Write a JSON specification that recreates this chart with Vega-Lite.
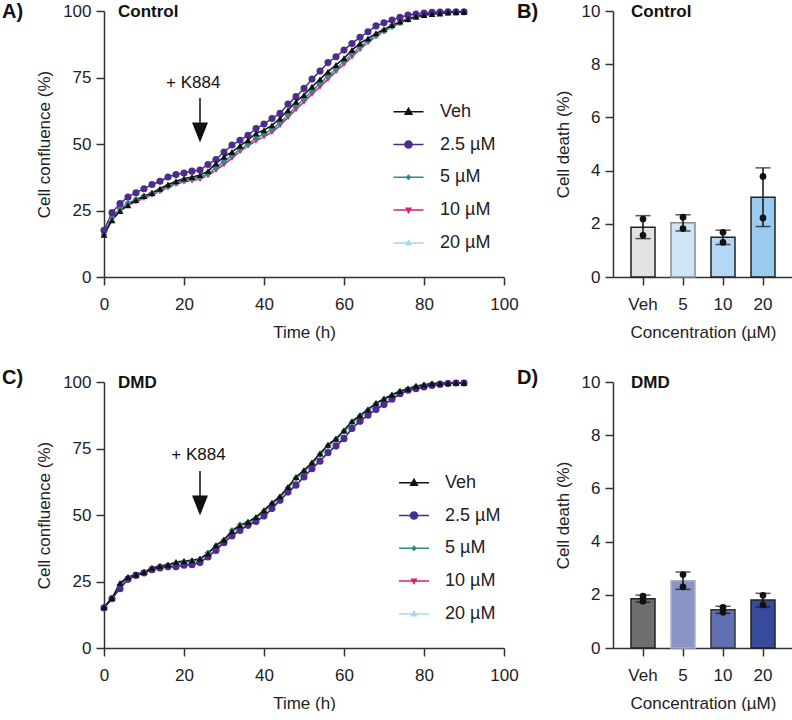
{
"$schema": "https://vega.github.io/schema/vega-lite/v6.json",
"padding": {"left": 2, "top": 2, "right": 0, "bottom": 0},
"background": "white",
"datasets": {
"ctrl": [
{"t":0,"s":"20 µM","v":16.2},{"t":2,"s":"20 µM","v":22.3},{"t":4,"s":"20 µM","v":25.5},{"t":6,"s":"20 µM","v":27.5},{"t":8,"s":"20 µM","v":28.9},{"t":10,"s":"20 µM","v":30.2},{"t":12,"s":"20 µM","v":31.2},{"t":14,"s":"20 µM","v":32.5},{"t":16,"s":"20 µM","v":33.9},{"t":18,"s":"20 µM","v":35.1},{"t":20,"s":"20 µM","v":36.1},{"t":22,"s":"20 µM","v":36.7},{"t":24,"s":"20 µM","v":37.2},{"t":26,"s":"20 µM","v":38.5},{"t":28,"s":"20 µM","v":40.8},{"t":30,"s":"20 µM","v":43.1},{"t":32,"s":"20 µM","v":45.4},{"t":34,"s":"20 µM","v":47.7},{"t":36,"s":"20 µM","v":49.7},{"t":38,"s":"20 µM","v":51.9},{"t":40,"s":"20 µM","v":53.4},{"t":42,"s":"20 µM","v":55.2},{"t":44,"s":"20 µM","v":57.6},{"t":46,"s":"20 µM","v":60.6},{"t":48,"s":"20 µM","v":63.8},{"t":50,"s":"20 µM","v":66.6},{"t":52,"s":"20 µM","v":69.6},{"t":54,"s":"20 µM","v":72.4},{"t":56,"s":"20 µM","v":75.2},{"t":58,"s":"20 µM","v":77.9},{"t":60,"s":"20 µM","v":80.6},{"t":62,"s":"20 µM","v":83.4},{"t":64,"s":"20 µM","v":86.1},{"t":66,"s":"20 µM","v":88.5},{"t":68,"s":"20 µM","v":90.6},{"t":70,"s":"20 µM","v":92.4},{"t":72,"s":"20 µM","v":94.1},{"t":74,"s":"20 µM","v":95.5},{"t":76,"s":"20 µM","v":96.7},{"t":78,"s":"20 µM","v":97.7},{"t":80,"s":"20 µM","v":98.4},{"t":82,"s":"20 µM","v":98.9},{"t":84,"s":"20 µM","v":99.2},{"t":86,"s":"20 µM","v":99.4},{"t":88,"s":"20 µM","v":99.5},{"t":90,"s":"20 µM","v":99.6},
{"t":0,"s":"10 µM","v":16.5},{"t":2,"s":"10 µM","v":22.0},{"t":4,"s":"10 µM","v":25.0},{"t":6,"s":"10 µM","v":27.0},{"t":8,"s":"10 µM","v":28.3},{"t":10,"s":"10 µM","v":29.6},{"t":12,"s":"10 µM","v":30.8},{"t":14,"s":"10 µM","v":32.2},{"t":16,"s":"10 µM","v":33.6},{"t":18,"s":"10 µM","v":34.9},{"t":20,"s":"10 µM","v":35.8},{"t":22,"s":"10 µM","v":36.2},{"t":24,"s":"10 µM","v":36.8},{"t":26,"s":"10 µM","v":38.2},{"t":28,"s":"10 µM","v":40.2},{"t":30,"s":"10 µM","v":42.3},{"t":32,"s":"10 µM","v":44.7},{"t":34,"s":"10 µM","v":47.2},{"t":36,"s":"10 µM","v":49.3},{"t":38,"s":"10 µM","v":51.2},{"t":40,"s":"10 µM","v":52.8},{"t":42,"s":"10 µM","v":54.4},{"t":44,"s":"10 µM","v":57.0},{"t":46,"s":"10 µM","v":60.0},{"t":48,"s":"10 µM","v":63.0},{"t":50,"s":"10 µM","v":65.8},{"t":52,"s":"10 µM","v":68.8},{"t":54,"s":"10 µM","v":71.5},{"t":56,"s":"10 µM","v":74.4},{"t":58,"s":"10 µM","v":77.3},{"t":60,"s":"10 µM","v":80.0},{"t":62,"s":"10 µM","v":82.8},{"t":64,"s":"10 µM","v":85.6},{"t":66,"s":"10 µM","v":88.2},{"t":68,"s":"10 µM","v":90.4},{"t":70,"s":"10 µM","v":92.3},{"t":72,"s":"10 µM","v":94.0},{"t":74,"s":"10 µM","v":95.5},{"t":76,"s":"10 µM","v":96.8},{"t":78,"s":"10 µM","v":97.8},{"t":80,"s":"10 µM","v":98.5},{"t":82,"s":"10 µM","v":99.0},{"t":84,"s":"10 µM","v":99.3},{"t":86,"s":"10 µM","v":99.5},{"t":88,"s":"10 µM","v":99.6},{"t":90,"s":"10 µM","v":99.6},
{"t":0,"s":"5 µM","v":16.0},{"t":2,"s":"5 µM","v":22.5},{"t":4,"s":"5 µM","v":25.8},{"t":6,"s":"5 µM","v":27.8},{"t":8,"s":"5 µM","v":29.2},{"t":10,"s":"5 µM","v":30.5},{"t":12,"s":"5 µM","v":31.5},{"t":14,"s":"5 µM","v":32.8},{"t":16,"s":"5 µM","v":34.2},{"t":18,"s":"5 µM","v":35.4},{"t":20,"s":"5 µM","v":36.4},{"t":22,"s":"5 µM","v":37.0},{"t":24,"s":"5 µM","v":37.5},{"t":26,"s":"5 µM","v":38.8},{"t":28,"s":"5 µM","v":41.2},{"t":30,"s":"5 µM","v":43.5},{"t":32,"s":"5 µM","v":45.8},{"t":34,"s":"5 µM","v":48.0},{"t":36,"s":"5 µM","v":50.0},{"t":38,"s":"5 µM","v":52.3},{"t":40,"s":"5 µM","v":53.8},{"t":42,"s":"5 µM","v":55.6},{"t":44,"s":"5 µM","v":58.0},{"t":46,"s":"5 µM","v":61.0},{"t":48,"s":"5 µM","v":64.2},{"t":50,"s":"5 µM","v":67.0},{"t":52,"s":"5 µM","v":70.0},{"t":54,"s":"5 µM","v":72.8},{"t":56,"s":"5 µM","v":75.6},{"t":58,"s":"5 µM","v":78.3},{"t":60,"s":"5 µM","v":81.0},{"t":62,"s":"5 µM","v":83.8},{"t":64,"s":"5 µM","v":86.5},{"t":66,"s":"5 µM","v":88.8},{"t":68,"s":"5 µM","v":90.8},{"t":70,"s":"5 µM","v":92.6},{"t":72,"s":"5 µM","v":94.2},{"t":74,"s":"5 µM","v":95.6},{"t":76,"s":"5 µM","v":96.8},{"t":78,"s":"5 µM","v":97.7},{"t":80,"s":"5 µM","v":98.4},{"t":82,"s":"5 µM","v":98.9},{"t":84,"s":"5 µM","v":99.2},{"t":86,"s":"5 µM","v":99.4},{"t":88,"s":"5 µM","v":99.5},{"t":90,"s":"5 µM","v":99.6},
{"t":0,"s":"2.5 µM","v":17.6},{"t":2,"s":"2.5 µM","v":24.2},{"t":4,"s":"2.5 µM","v":27.6},{"t":6,"s":"2.5 µM","v":30.1},{"t":8,"s":"2.5 µM","v":31.7},{"t":10,"s":"2.5 µM","v":33.2},{"t":12,"s":"2.5 µM","v":34.8},{"t":14,"s":"2.5 µM","v":36.0},{"t":16,"s":"2.5 µM","v":37.6},{"t":18,"s":"2.5 µM","v":38.5},{"t":20,"s":"2.5 µM","v":39.1},{"t":22,"s":"2.5 µM","v":39.8},{"t":24,"s":"2.5 µM","v":40.2},{"t":26,"s":"2.5 µM","v":42.3},{"t":28,"s":"2.5 µM","v":44.2},{"t":30,"s":"2.5 µM","v":47.0},{"t":32,"s":"2.5 µM","v":49.6},{"t":34,"s":"2.5 µM","v":51.4},{"t":36,"s":"2.5 µM","v":53.3},{"t":38,"s":"2.5 µM","v":55.8},{"t":40,"s":"2.5 µM","v":57.5},{"t":42,"s":"2.5 µM","v":59.6},{"t":44,"s":"2.5 µM","v":61.5},{"t":46,"s":"2.5 µM","v":65.0},{"t":48,"s":"2.5 µM","v":67.8},{"t":50,"s":"2.5 µM","v":70.9},{"t":52,"s":"2.5 µM","v":74.4},{"t":54,"s":"2.5 µM","v":77.4},{"t":56,"s":"2.5 µM","v":80.6},{"t":58,"s":"2.5 µM","v":82.8},{"t":60,"s":"2.5 µM","v":85.3},{"t":62,"s":"2.5 µM","v":87.8},{"t":64,"s":"2.5 µM","v":90.1},{"t":66,"s":"2.5 µM","v":92.2},{"t":68,"s":"2.5 µM","v":94.4},{"t":70,"s":"2.5 µM","v":95.6},{"t":72,"s":"2.5 µM","v":96.6},{"t":74,"s":"2.5 µM","v":97.6},{"t":76,"s":"2.5 µM","v":98.5},{"t":78,"s":"2.5 µM","v":98.9},{"t":80,"s":"2.5 µM","v":99.2},{"t":82,"s":"2.5 µM","v":99.5},{"t":84,"s":"2.5 µM","v":99.6},{"t":86,"s":"2.5 µM","v":99.7},{"t":88,"s":"2.5 µM","v":99.7},{"t":90,"s":"2.5 µM","v":99.7},
{"t":0,"s":"Veh","v":15.9},{"t":2,"s":"Veh","v":21.3},{"t":4,"s":"Veh","v":24.8},{"t":6,"s":"Veh","v":27.0},{"t":8,"s":"Veh","v":28.9},{"t":10,"s":"Veh","v":30.4},{"t":12,"s":"Veh","v":31.6},{"t":14,"s":"Veh","v":33.2},{"t":16,"s":"Veh","v":34.8},{"t":18,"s":"Veh","v":36.0},{"t":20,"s":"Veh","v":37.0},{"t":22,"s":"Veh","v":37.6},{"t":24,"s":"Veh","v":38.3},{"t":26,"s":"Veh","v":39.8},{"t":28,"s":"Veh","v":42.7},{"t":30,"s":"Veh","v":45.2},{"t":32,"s":"Veh","v":47.0},{"t":34,"s":"Veh","v":49.3},{"t":36,"s":"Veh","v":51.4},{"t":38,"s":"Veh","v":54.0},{"t":40,"s":"Veh","v":55.2},{"t":42,"s":"Veh","v":57.0},{"t":44,"s":"Veh","v":59.6},{"t":46,"s":"Veh","v":62.7},{"t":48,"s":"Veh","v":65.9},{"t":50,"s":"Veh","v":68.4},{"t":52,"s":"Veh","v":71.5},{"t":54,"s":"Veh","v":74.3},{"t":56,"s":"Veh","v":77.2},{"t":58,"s":"Veh","v":79.7},{"t":60,"s":"Veh","v":82.2},{"t":62,"s":"Veh","v":85.3},{"t":64,"s":"Veh","v":87.8},{"t":66,"s":"Veh","v":89.7},{"t":68,"s":"Veh","v":91.6},{"t":70,"s":"Veh","v":93.1},{"t":72,"s":"Veh","v":94.7},{"t":74,"s":"Veh","v":96.0},{"t":76,"s":"Veh","v":97.0},{"t":78,"s":"Veh","v":97.9},{"t":80,"s":"Veh","v":98.5},{"t":82,"s":"Veh","v":98.9},{"t":84,"s":"Veh","v":99.1},{"t":86,"s":"Veh","v":99.4},{"t":88,"s":"Veh","v":99.5},{"t":90,"s":"Veh","v":99.6}
],
"dmd": [
{"t":0,"s":"20 µM","v":15.3},{"t":2,"s":"20 µM","v":18.7},{"t":4,"s":"20 µM","v":23.5},{"t":6,"s":"20 µM","v":26.3},{"t":8,"s":"20 µM","v":27.5},{"t":10,"s":"20 µM","v":28.4},{"t":12,"s":"20 µM","v":29.8},{"t":14,"s":"20 µM","v":30.5},{"t":16,"s":"20 µM","v":31.0},{"t":18,"s":"20 µM","v":31.6},{"t":20,"s":"20 µM","v":32.1},{"t":22,"s":"20 µM","v":32.4},{"t":24,"s":"20 µM","v":33.0},{"t":26,"s":"20 µM","v":35.9},{"t":28,"s":"20 µM","v":38.0},{"t":30,"s":"20 µM","v":40.4},{"t":32,"s":"20 µM","v":43.6},{"t":34,"s":"20 µM","v":45.8},{"t":36,"s":"20 µM","v":47.0},{"t":38,"s":"20 µM","v":48.8},{"t":40,"s":"20 µM","v":51.0},{"t":42,"s":"20 µM","v":53.9},{"t":44,"s":"20 µM","v":56.6},{"t":46,"s":"20 µM","v":59.9},{"t":48,"s":"20 µM","v":63.4},{"t":50,"s":"20 µM","v":66.0},{"t":52,"s":"20 µM","v":69.0},{"t":54,"s":"20 µM","v":72.3},{"t":56,"s":"20 µM","v":75.5},{"t":58,"s":"20 µM","v":78.0},{"t":60,"s":"20 µM","v":81.0},{"t":62,"s":"20 µM","v":84.4},{"t":64,"s":"20 µM","v":86.8},{"t":66,"s":"20 µM","v":89.0},{"t":68,"s":"20 µM","v":91.3},{"t":70,"s":"20 µM","v":93.0},{"t":72,"s":"20 µM","v":94.7},{"t":74,"s":"20 µM","v":96.2},{"t":76,"s":"20 µM","v":97.2},{"t":78,"s":"20 µM","v":98.1},{"t":80,"s":"20 µM","v":98.7},{"t":82,"s":"20 µM","v":99.2},{"t":84,"s":"20 µM","v":99.4},{"t":86,"s":"20 µM","v":99.6},{"t":88,"s":"20 µM","v":99.7},{"t":90,"s":"20 µM","v":99.7},
{"t":0,"s":"10 µM","v":15.2},{"t":2,"s":"10 µM","v":18.6},{"t":4,"s":"10 µM","v":22.8},{"t":6,"s":"10 µM","v":26.0},{"t":8,"s":"10 µM","v":27.4},{"t":10,"s":"10 µM","v":28.3},{"t":12,"s":"10 µM","v":29.6},{"t":14,"s":"10 µM","v":30.3},{"t":16,"s":"10 µM","v":30.7},{"t":18,"s":"10 µM","v":30.8},{"t":20,"s":"10 µM","v":31.3},{"t":22,"s":"10 µM","v":31.5},{"t":24,"s":"10 µM","v":32.3},{"t":26,"s":"10 µM","v":34.4},{"t":28,"s":"10 µM","v":37.0},{"t":30,"s":"10 µM","v":39.8},{"t":32,"s":"10 µM","v":42.4},{"t":34,"s":"10 µM","v":44.5},{"t":36,"s":"10 µM","v":46.4},{"t":38,"s":"10 µM","v":47.9},{"t":40,"s":"10 µM","v":49.2},{"t":42,"s":"10 µM","v":52.6},{"t":44,"s":"10 µM","v":55.7},{"t":46,"s":"10 µM","v":58.4},{"t":48,"s":"10 µM","v":61.4},{"t":50,"s":"10 µM","v":64.5},{"t":52,"s":"10 µM","v":67.6},{"t":54,"s":"10 µM","v":70.4},{"t":56,"s":"10 µM","v":73.6},{"t":58,"s":"10 µM","v":76.1},{"t":60,"s":"10 µM","v":78.9},{"t":62,"s":"10 µM","v":82.6},{"t":64,"s":"10 µM","v":85.3},{"t":66,"s":"10 µM","v":87.6},{"t":68,"s":"10 µM","v":89.8},{"t":70,"s":"10 µM","v":91.6},{"t":72,"s":"10 µM","v":93.6},{"t":74,"s":"10 µM","v":95.6},{"t":76,"s":"10 µM","v":96.9},{"t":78,"s":"10 µM","v":97.5},{"t":80,"s":"10 µM","v":98.2},{"t":82,"s":"10 µM","v":98.8},{"t":84,"s":"10 µM","v":99.2},{"t":86,"s":"10 µM","v":99.4},{"t":88,"s":"10 µM","v":99.6},{"t":90,"s":"10 µM","v":99.6},
{"t":0,"s":"5 µM","v":15.3},{"t":2,"s":"5 µM","v":18.7},{"t":4,"s":"5 µM","v":23.8},{"t":6,"s":"5 µM","v":26.5},{"t":8,"s":"5 µM","v":27.5},{"t":10,"s":"5 µM","v":28.5},{"t":12,"s":"5 µM","v":29.9},{"t":14,"s":"5 µM","v":30.7},{"t":16,"s":"5 µM","v":31.2},{"t":18,"s":"5 µM","v":32.0},{"t":20,"s":"5 µM","v":32.5},{"t":22,"s":"5 µM","v":32.8},{"t":24,"s":"5 µM","v":33.4},{"t":26,"s":"5 µM","v":35.8},{"t":28,"s":"5 µM","v":38.4},{"t":30,"s":"5 µM","v":40.6},{"t":32,"s":"5 µM","v":44.2},{"t":34,"s":"5 µM","v":46.3},{"t":36,"s":"5 µM","v":47.3},{"t":38,"s":"5 µM","v":49.0},{"t":40,"s":"5 µM","v":51.5},{"t":42,"s":"5 µM","v":54.3},{"t":44,"s":"5 µM","v":56.8},{"t":46,"s":"5 µM","v":60.2},{"t":48,"s":"5 µM","v":63.9},{"t":50,"s":"5 µM","v":66.5},{"t":52,"s":"5 µM","v":69.5},{"t":54,"s":"5 µM","v":72.8},{"t":56,"s":"5 µM","v":76.1},{"t":58,"s":"5 µM","v":78.5},{"t":60,"s":"5 µM","v":81.6},{"t":62,"s":"5 µM","v":85.0},{"t":64,"s":"5 µM","v":87.3},{"t":66,"s":"5 µM","v":89.5},{"t":68,"s":"5 µM","v":91.9},{"t":70,"s":"5 µM","v":93.6},{"t":72,"s":"5 µM","v":95.1},{"t":74,"s":"5 µM","v":96.5},{"t":76,"s":"5 µM","v":97.4},{"t":78,"s":"5 µM","v":98.4},{"t":80,"s":"5 µM","v":98.9},{"t":82,"s":"5 µM","v":99.3},{"t":84,"s":"5 µM","v":99.5},{"t":86,"s":"5 µM","v":99.6},{"t":88,"s":"5 µM","v":99.7},{"t":90,"s":"5 µM","v":99.7},
{"t":0,"s":"2.5 µM","v":15.0},{"t":2,"s":"2.5 µM","v":18.5},{"t":4,"s":"2.5 µM","v":22.3},{"t":6,"s":"2.5 µM","v":25.8},{"t":8,"s":"2.5 µM","v":27.3},{"t":10,"s":"2.5 µM","v":28.2},{"t":12,"s":"2.5 µM","v":29.4},{"t":14,"s":"2.5 µM","v":30.1},{"t":16,"s":"2.5 µM","v":30.5},{"t":18,"s":"2.5 µM","v":30.5},{"t":20,"s":"2.5 µM","v":31.1},{"t":22,"s":"2.5 µM","v":31.3},{"t":24,"s":"2.5 µM","v":32.1},{"t":26,"s":"2.5 µM","v":34.2},{"t":28,"s":"2.5 µM","v":36.7},{"t":30,"s":"2.5 µM","v":39.6},{"t":32,"s":"2.5 µM","v":42.1},{"t":34,"s":"2.5 µM","v":44.2},{"t":36,"s":"2.5 µM","v":46.1},{"t":38,"s":"2.5 µM","v":47.6},{"t":40,"s":"2.5 µM","v":49.6},{"t":42,"s":"2.5 µM","v":52.4},{"t":44,"s":"2.5 µM","v":55.5},{"t":46,"s":"2.5 µM","v":58.6},{"t":48,"s":"2.5 µM","v":61.2},{"t":50,"s":"2.5 µM","v":64.3},{"t":52,"s":"2.5 µM","v":67.4},{"t":54,"s":"2.5 µM","v":70.2},{"t":56,"s":"2.5 µM","v":73.4},{"t":58,"s":"2.5 µM","v":75.9},{"t":60,"s":"2.5 µM","v":78.7},{"t":62,"s":"2.5 µM","v":82.5},{"t":64,"s":"2.5 µM","v":85.2},{"t":66,"s":"2.5 µM","v":87.5},{"t":68,"s":"2.5 µM","v":89.7},{"t":70,"s":"2.5 µM","v":91.5},{"t":72,"s":"2.5 µM","v":93.5},{"t":74,"s":"2.5 µM","v":95.6},{"t":76,"s":"2.5 µM","v":96.9},{"t":78,"s":"2.5 µM","v":97.5},{"t":80,"s":"2.5 µM","v":98.1},{"t":82,"s":"2.5 µM","v":98.7},{"t":84,"s":"2.5 µM","v":99.1},{"t":86,"s":"2.5 µM","v":99.4},{"t":88,"s":"2.5 µM","v":99.6},{"t":90,"s":"2.5 µM","v":99.6},
{"t":0,"s":"Veh","v":15.4},{"t":2,"s":"Veh","v":18.8},{"t":4,"s":"Veh","v":24.4},{"t":6,"s":"Veh","v":26.7},{"t":8,"s":"Veh","v":27.6},{"t":10,"s":"Veh","v":28.6},{"t":12,"s":"Veh","v":30.1},{"t":14,"s":"Veh","v":30.8},{"t":16,"s":"Veh","v":31.3},{"t":18,"s":"Veh","v":32.3},{"t":20,"s":"Veh","v":32.7},{"t":22,"s":"Veh","v":33.0},{"t":24,"s":"Veh","v":33.6},{"t":26,"s":"Veh","v":35.5},{"t":28,"s":"Veh","v":38.6},{"t":30,"s":"Veh","v":40.7},{"t":32,"s":"Veh","v":43.9},{"t":34,"s":"Veh","v":46.1},{"t":36,"s":"Veh","v":47.4},{"t":38,"s":"Veh","v":49.2},{"t":40,"s":"Veh","v":51.8},{"t":42,"s":"Veh","v":54.6},{"t":44,"s":"Veh","v":57.0},{"t":46,"s":"Veh","v":60.5},{"t":48,"s":"Veh","v":64.3},{"t":50,"s":"Veh","v":66.8},{"t":52,"s":"Veh","v":69.7},{"t":54,"s":"Veh","v":73.1},{"t":56,"s":"Veh","v":76.4},{"t":58,"s":"Veh","v":78.7},{"t":60,"s":"Veh","v":81.8},{"t":62,"s":"Veh","v":85.2},{"t":64,"s":"Veh","v":87.5},{"t":66,"s":"Veh","v":89.7},{"t":68,"s":"Veh","v":92.1},{"t":70,"s":"Veh","v":93.7},{"t":72,"s":"Veh","v":95.2},{"t":74,"s":"Veh","v":96.6},{"t":76,"s":"Veh","v":97.5},{"t":78,"s":"Veh","v":98.5},{"t":80,"s":"Veh","v":99.0},{"t":82,"s":"Veh","v":99.4},{"t":84,"s":"Veh","v":99.5},{"t":86,"s":"Veh","v":99.6},{"t":88,"s":"Veh","v":99.7},{"t":90,"s":"Veh","v":99.7}
],
"ctrlbar": [
{"c":"Veh","v":2.18},{"c":"Veh","v":1.57},{"c":"5","v":2.25},{"c":"5","v":1.82},{"c":"10","v":1.68},{"c":"10","v":1.30},{"c":"20","v":3.78},{"c":"20","v":2.22}
],
"dmdbar": [
{"c":"Veh","v":1.76},{"c":"Veh","v":1.95},{"c":"5","v":2.76},{"c":"5","v":2.30},{"c":"10","v":1.34},{"c":"10","v":1.53},{"c":"20","v":1.98},{"c":"20","v":1.62}
]
},
"vconcat": [
{
"hconcat": [
{
"width": 400, "height": 266,
"layer": [
{"data": {"name": "ctrl"}, "mark": {"type": "line", "strokeWidth": 1.5},
 "encoding": {
  "x": {"field": "t", "type": "quantitative", "scale": {"domain": [0, 100]}, "axis": {"values": [0,20,40,60,80,100], "title": "Time (h)", "labelFlush": false}},
  "y": {"field": "v", "type": "quantitative", "scale": {"domain": [0, 100]}, "axis": {"values": [0,25,50,75,100], "title": "Cell confluence (%)"}},
  "color": {"field": "s", "type": "nominal", "scale": {"domain": ["Veh","2.5 µM","5 µM","10 µM","20 µM"], "range": ["#111111","#4a2d8f","#2e8b8b","#d4236e","#a6d8e8"]},
   "legend": {"orient": "none", "legendX": 288.5, "legendY": 84.7, "title": null, "padding": 0, "symbolSize": 900, "rowPadding": 7.8, "labelOffset": 15.5, "labelFontSize": 18, "labelColor": "#222", "symbolStrokeWidth": 1.5,
    "encode": {"symbols": {"update": {
     "shape": {"signal": "datum.value === 'Veh' ? 'M-1,0H1M-0.22,0.17L0.22,0.17L0,-0.22Z' : datum.value === '2.5 µM' ? 'M-1,0H1M-0.24,0A0.24,0.24,0,1,0,0.24,0A0.24,0.24,0,1,0,-0.24,0Z' : datum.value === '5 µM' ? 'M-1,0H1M-0.13,0L0,-0.13L0.13,0L0,0.13Z' : datum.value === '10 µM' ? 'M-1,0H1M-0.15,-0.12L0.15,-0.12L0,0.15Z' : 'M-1,0H1M-0.15,0.12L0.15,0.12L0,-0.15Z'"},
     "fill": {"signal": "datum.value === 'Veh' ? '#111111' : datum.value === '2.5 µM' ? '#4a2d8f' : datum.value === '5 µM' ? '#2e8b8b' : datum.value === '10 µM' ? '#d4236e' : '#a6d8e8'"},
     "stroke": {"signal": "datum.value === 'Veh' ? '#111111' : datum.value === '2.5 µM' ? '#4a2d8f' : datum.value === '5 µM' ? '#2e8b8b' : datum.value === '10 µM' ? '#d4236e' : '#a6d8e8'"},
     "strokeWidth": {"value": 1.5},
     "size": {"value": 900},
     "opacity": {"value": 1}
    }}}
   }}
 }},
{"data": {"name": "ctrl"}, "mark": {"type": "point", "filled": true, "opacity": 1},
 "encoding": {
  "x": {"field": "t", "type": "quantitative"},
  "y": {"field": "v", "type": "quantitative"},
  "color": {"field": "s", "type": "nominal", "legend": null},
  "shape": {"field": "s", "type": "nominal", "scale": {"domain": ["20 µM","10 µM","5 µM","2.5 µM","Veh"], "range": ["triangle-up","triangle-down","diamond","circle","triangle-up"]}, "legend": null},
  "size": {"field": "s", "type": "nominal", "scale": {"domain": ["2.5 µM","Veh","5 µM","10 µM","20 µM"], "range": [50,40,18,22,18]}, "legend": null}
 }},
{"data": {"values": [{}]}, "mark": {"type": "rule", "strokeWidth": 1.5, "color": "#111"},
 "encoding": {"x": {"datum": 24}, "y": {"datum": 67.3}, "y2": {"datum": 57}}},
{"data": {"values": [{}]}, "mark": {"type": "point", "shape": "M-0.4,-0.5L0.4,-0.5L0,0.5Z", "size": 1600, "filled": true, "color": "#111", "opacity": 1},
 "encoding": {"x": {"datum": 24}, "y": {"datum": 54.3}}},
{"data": {"values": [{}]}, "mark": {"type": "text", "text": "+ K884", "fontSize": 17, "color": "#111", "align": "center", "baseline": "middle"},
 "encoding": {"x": {"datum": 22.3}, "y": {"datum": 72.9}}},
{"data": {"values": [{}]}, "mark": {"type": "text", "text": "Control", "fontSize": 17, "fontWeight": "bold", "color": "#111", "align": "left", "baseline": "middle"},
 "encoding": {"x": {"datum": 3.5}, "y": {"datum": 99.7}}},
{"data": {"values": [{}]}, "mark": {"type": "text", "text": "A)", "fontSize": 20, "fontWeight": "bold", "color": "#111", "align": "left", "baseline": "middle"},
 "encoding": {"x": {"datum": -25.5}, "y": {"datum": 99.5}}}
]
},
{
"width": 180, "height": 266,
"data": {"name": "ctrlbar"},
"encoding": {"x": {"field": "c", "type": "nominal", "sort": ["Veh","5","10","20"], "scale": {"paddingInner": 0.4, "paddingOuter": 0.45}, "axis": {"labelAngle": 0, "title": "Concentration (µM)"}}},
"layer": [
{"mark": {"type": "bar", "strokeWidth": 1.5},
 "encoding": {
  "y": {"aggregate": "mean", "field": "v", "type": "quantitative", "title": "Cell death (%)", "scale": {"domain": [0, 10]}, "axis": {"values": [0,2,4,6,8,10]}},
  "fill": {"field": "c", "type": "nominal", "scale": {"domain": ["Veh","5","10","20"], "range": ["#e2e2e2","#cfe4f6","#b4d7f3","#9bcaef"]}, "legend": null},
  "stroke": {"field": "c", "type": "nominal", "scale": {"domain": ["Veh","5","10","20"], "range": ["#222222","#8a8a8a","#222222","#222222"]}, "legend": null}
 }},
{"mark": {"type": "errorbar", "extent": "stdev", "color": "#111", "thickness": 1.5, "ticks": {"size": 15, "thickness": 1.5, "color": "#111"}},
 "encoding": {"y": {"field": "v", "type": "quantitative", "title": "Cell death (%)"}}},
{"mark": {"type": "point", "filled": true, "size": 45, "color": "#111", "opacity": 1},
 "encoding": {"y": {"field": "v", "type": "quantitative", "title": "Cell death (%)"}}},
{"data": {"values": [{}]}, "mark": {"type": "text", "text": "Control", "fontSize": 17, "fontWeight": "bold", "color": "#111", "align": "left", "baseline": "middle"},
 "encoding": {"x": {"datum": "Veh", "bandPosition": 0}, "y": {"datum": 9.97}}},
{"data": {"values": [{}]}, "mark": {"type": "text", "text": "B)", "fontSize": 20, "fontWeight": "bold", "color": "#111", "align": "left", "baseline": "middle", "dx": -114},
 "encoding": {"x": {"datum": "Veh", "bandPosition": 0}, "y": {"datum": 9.95}}}
]
}
],
"spacing": -2,
"resolve": {"scale": {"color": "independent", "fill": "independent", "stroke": "independent", "shape": "independent", "size": "independent"}, "legend": {"color": "independent"}}
},
{
"hconcat": [
{
"width": 400, "height": 266,
"layer": [
{"data": {"name": "dmd"}, "mark": {"type": "line", "strokeWidth": 1.5},
 "encoding": {
  "x": {"field": "t", "type": "quantitative", "scale": {"domain": [0, 100]}, "axis": {"values": [0,20,40,60,80,100], "title": "Time (h)", "labelFlush": false}},
  "y": {"field": "v", "type": "quantitative", "scale": {"domain": [0, 100]}, "axis": {"values": [0,25,50,75,100], "title": "Cell confluence (%)"}},
  "color": {"field": "s", "type": "nominal", "scale": {"domain": ["Veh","2.5 µM","5 µM","10 µM","20 µM"], "range": ["#111111","#4a2d8f","#2e8b8b","#d4236e","#a6d8e8"]},
   "legend": {"orient": "none", "legendX": 294, "legendY": 84.7, "title": null, "padding": 0, "symbolSize": 900, "rowPadding": 7.8, "labelOffset": 15, "labelFontSize": 18, "labelColor": "#222", "symbolStrokeWidth": 1.5,
    "encode": {"symbols": {"update": {
     "shape": {"signal": "datum.value === 'Veh' ? 'M-1,0H1M-0.22,0.17L0.22,0.17L0,-0.22Z' : datum.value === '2.5 µM' ? 'M-1,0H1M-0.24,0A0.24,0.24,0,1,0,0.24,0A0.24,0.24,0,1,0,-0.24,0Z' : datum.value === '5 µM' ? 'M-1,0H1M-0.13,0L0,-0.13L0.13,0L0,0.13Z' : datum.value === '10 µM' ? 'M-1,0H1M-0.15,-0.12L0.15,-0.12L0,0.15Z' : 'M-1,0H1M-0.15,0.12L0.15,0.12L0,-0.15Z'"},
     "fill": {"signal": "datum.value === 'Veh' ? '#111111' : datum.value === '2.5 µM' ? '#4a2d8f' : datum.value === '5 µM' ? '#2e8b8b' : datum.value === '10 µM' ? '#d4236e' : '#a6d8e8'"},
     "stroke": {"signal": "datum.value === 'Veh' ? '#111111' : datum.value === '2.5 µM' ? '#4a2d8f' : datum.value === '5 µM' ? '#2e8b8b' : datum.value === '10 µM' ? '#d4236e' : '#a6d8e8'"},
     "strokeWidth": {"value": 1.5},
     "size": {"value": 900},
     "opacity": {"value": 1}
    }}}
   }}
 }},
{"data": {"name": "dmd"}, "mark": {"type": "point", "filled": true, "opacity": 1},
 "encoding": {
  "x": {"field": "t", "type": "quantitative"},
  "y": {"field": "v", "type": "quantitative"},
  "color": {"field": "s", "type": "nominal", "legend": null},
  "shape": {"field": "s", "type": "nominal", "scale": {"domain": ["20 µM","10 µM","5 µM","2.5 µM","Veh"], "range": ["triangle-up","triangle-down","diamond","circle","triangle-up"]}, "legend": null},
  "size": {"field": "s", "type": "nominal", "scale": {"domain": ["2.5 µM","Veh","5 µM","10 µM","20 µM"], "range": [50,40,18,22,18]}, "legend": null}
 }},
{"data": {"values": [{}]}, "mark": {"type": "rule", "strokeWidth": 1.5, "color": "#111"},
 "encoding": {"x": {"datum": 24}, "y": {"datum": 66.5}, "y2": {"datum": 56.5}}},
{"data": {"values": [{}]}, "mark": {"type": "point", "shape": "M-0.4,-0.5L0.4,-0.5L0,0.5Z", "size": 1600, "filled": true, "color": "#111", "opacity": 1},
 "encoding": {"x": {"datum": 24}, "y": {"datum": 53.6}}},
{"data": {"values": [{}]}, "mark": {"type": "text", "text": "+ K884", "fontSize": 17, "color": "#111", "align": "center", "baseline": "middle"},
 "encoding": {"x": {"datum": 23.6}, "y": {"datum": 72.5}}},
{"data": {"values": [{}]}, "mark": {"type": "text", "text": "DMD", "fontSize": 17, "fontWeight": "bold", "color": "#111", "align": "left", "baseline": "middle"},
 "encoding": {"x": {"datum": 3.5}, "y": {"datum": 99.7}}},
{"data": {"values": [{}]}, "mark": {"type": "text", "text": "C)", "fontSize": 20, "fontWeight": "bold", "color": "#111", "align": "left", "baseline": "middle"},
 "encoding": {"x": {"datum": -25.5}, "y": {"datum": 101.5}}}
]
},
{
"width": 180, "height": 266,
"data": {"name": "dmdbar"},
"encoding": {"x": {"field": "c", "type": "nominal", "sort": ["Veh","5","10","20"], "scale": {"paddingInner": 0.4, "paddingOuter": 0.45}, "axis": {"labelAngle": 0, "title": "Concentration (µM)"}}},
"layer": [
{"mark": {"type": "bar", "strokeWidth": 1.5},
 "encoding": {
  "y": {"aggregate": "mean", "field": "v", "type": "quantitative", "title": "Cell death (%)", "scale": {"domain": [0, 10]}, "axis": {"values": [0,2,4,6,8,10]}},
  "fill": {"field": "c", "type": "nominal", "scale": {"domain": ["Veh","5","10","20"], "range": ["#6f6f6f","#8a94c6","#6170b0","#384a9c"]}, "legend": null},
  "stroke": {"field": "c", "type": "nominal", "scale": {"domain": ["Veh","5","10","20"], "range": ["#222222","#a9b0cf","#333333","#222222"]}, "legend": null}
 }},
{"mark": {"type": "errorbar", "extent": "stdev", "color": "#111", "thickness": 1.5, "ticks": {"size": 15, "thickness": 1.5, "color": "#111"}},
 "encoding": {"y": {"field": "v", "type": "quantitative", "title": "Cell death (%)"}}},
{"mark": {"type": "point", "filled": true, "size": 45, "color": "#111", "opacity": 1},
 "encoding": {"y": {"field": "v", "type": "quantitative", "title": "Cell death (%)"}}},
{"data": {"values": [{}]}, "mark": {"type": "text", "text": "DMD", "fontSize": 17, "fontWeight": "bold", "color": "#111", "align": "left", "baseline": "middle"},
 "encoding": {"x": {"datum": "Veh", "bandPosition": 0}, "y": {"datum": 9.97}}},
{"data": {"values": [{}]}, "mark": {"type": "text", "text": "D)", "fontSize": 20, "fontWeight": "bold", "color": "#111", "align": "left", "baseline": "middle", "dx": -114},
 "encoding": {"x": {"datum": "Veh", "bandPosition": 0}, "y": {"datum": 10.15}}}
]
}
],
"spacing": -2,
"resolve": {"scale": {"color": "independent", "fill": "independent", "stroke": "independent", "shape": "independent", "size": "independent"}, "legend": {"color": "independent"}}
}
],
"spacing": 28,
"resolve": {"scale": {"color": "independent", "fill": "independent", "stroke": "independent", "shape": "independent", "size": "independent"}, "legend": {"color": "independent"}},
"config": {
"font": "Liberation Sans",
"view": {"stroke": null},
"axis": {"domainColor": "#333", "tickColor": "#333", "domainWidth": 1.5, "tickWidth": 1.5, "tickSize": 8, "labelFontSize": 17, "titleFontSize": 17, "labelColor": "#222", "titleColor": "#222", "titleFontWeight": "normal", "grid": false, "labelPadding": 5, "titlePadding": 9},
"axisX": {"labelPadding": 11, "titlePadding": 12}
}
}
